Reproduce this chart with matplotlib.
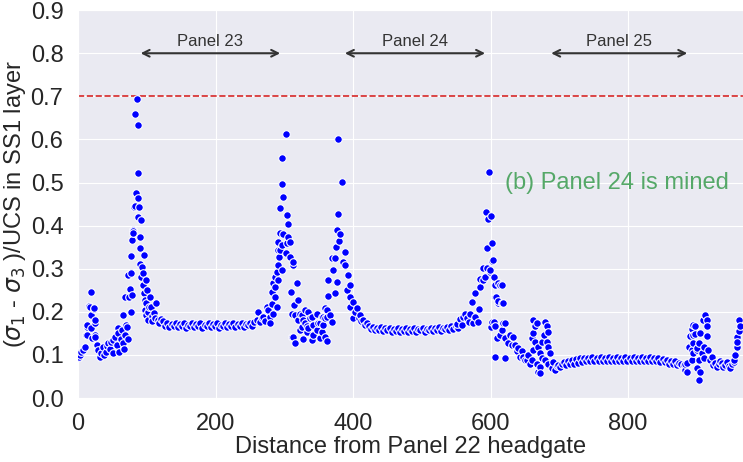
import numpy as np
import matplotlib
matplotlib.use("Agg")
import matplotlib.pyplot as plt
import seaborn as sns

# (distance, normalised stress), one list per stretch of the profile
left_pts = [
    (1, 0.095), (3, 0.100), (5, 0.107), (7, 0.112), (10, 0.119), (11, 0.146), (13.6, 0.146),
    (13.6, 0.165), (13.6, 0.169), (16.5, 0.213), (17, 0.212), (18.4, 0.247), (18.4, 0.193),
    (19.4, 0.162), (21, 0.140), (23, 0.206), (23, 0.208), (24, 0.175), (24.7, 0.181), (24, 0.146),
    (25, 0.142), (27, 0.123), (29.6, 0.111), (32, 0.096), (34, 0.104), (36.8, 0.119), (38, 0.100),
    (40.7, 0.107), (42, 0.121), (44.1, 0.127), (46.5, 0.113), (48, 0.131), (50.4, 0.135),
    (51.4, 0.104), (53.8, 0.142), (56.2, 0.123), (58.2, 0.162), (58.7, 0.150), (60.1, 0.107),
    (62.1, 0.138), (63.5, 0.158), (65.4, 0.193), (65.9, 0.127), (66.9, 0.113), (67.9, 0.235),
    (68.4, 0.146), (70.3, 0.169), (70.8, 0.165), (72.7, 0.285), (73.2, 0.138), (73.7, 0.234),
    (75.1, 0.254), (76.6, 0.330), (76.6, 0.200), (77.6, 0.289), (78, 0.239),
]
peak1_pts = [
    (79.0, 0.367), (79.5, 0.389), (80.0, 0.388), (80.5, 0.382), (81.5, 0.444), (82.9, 0.445),
    (82.9, 0.660), (83.9, 0.475), (85.3, 0.693), (87.3, 0.523), (87.3, 0.463), (87.3, 0.421),
    (87.7, 0.633), (88.7, 0.444), (89.7, 0.374), (89.7, 0.347), (89.7, 0.312), (91.1, 0.413),
    (91.1, 0.281), (93.1, 0.305), (94, 0.290), (95, 0.262), (96.0, 0.332), (96.0, 0.243),
    (97.0, 0.204), (98, 0.228), (99.4, 0.274), (99.4, 0.220), (99.4, 0.193), (100.8, 0.251),
    (101.8, 0.181), (102, 0.200), (103, 0.212), (104.2, 0.235), (105.7, 0.211), (107, 0.190),
    (108, 0.178), (110.5, 0.197), (111.5, 0.185), (113.9, 0.220), (116, 0.180), (118, 0.175),
    (121.2, 0.183),
]
flat23_pts = [
    (124, 0.178), (127, 0.168), (130, 0.174), (133, 0.165), (136, 0.172), (139, 0.167), (142, 0.175),
    (145, 0.164), (148, 0.171), (151, 0.168), (154, 0.174), (157, 0.163), (160, 0.170), (163, 0.167),
    (166, 0.173), (169, 0.164), (172, 0.171), (175, 0.168), (178, 0.174), (181, 0.163), (184, 0.170),
    (187, 0.166), (190, 0.173), (193, 0.164), (196, 0.171), (199, 0.167), (202, 0.174), (205, 0.163),
    (208, 0.170), (211, 0.167), (214, 0.173), (217, 0.164), (220, 0.171), (223, 0.167), (226, 0.174),
    (229, 0.164), (232, 0.171), (235, 0.168), (238, 0.174), (241, 0.165), (244, 0.172), (247, 0.169),
    (250, 0.175), (253, 0.168), (256, 0.177),
]
peak2_pts = [
    (259.9, 0.181), (262.3, 0.200), (265, 0.176), (268, 0.185), (269.6, 0.189), (272, 0.178),
    (274.4, 0.212), (276.8, 0.204), (279.3, 0.189), (279.3, 0.173), (281.7, 0.247), (281.7, 0.219),
    (284.2, 0.266), (284.2, 0.196), (286.6, 0.281), (286.6, 0.235), (286.6, 0.258), (289.0, 0.293),
    (289.0, 0.212), (291.4, 0.309), (291.4, 0.273), (291.4, 0.363), (291.4, 0.343), (292.9, 0.328),
    (293.8, 0.343), (293.8, 0.382), (293.8, 0.440), (296.3, 0.496), (296.3, 0.297), (296.3, 0.356),
    (297.2, 0.558), (298.7, 0.380), (298.7, 0.467), (302.0, 0.612), (302.5, 0.336), (303.5, 0.425),
    (303.5, 0.359), (304.9, 0.403), (306.0, 0.374), (308.4, 0.363), (308.4, 0.328), (309.3, 0.247),
    (310.8, 0.196), (311.7, 0.142), (312.2, 0.309), (313.2, 0.316), (313.2, 0.142), (314.1, 0.216),
    (315.6, 0.193), (315.6, 0.127), (318.0, 0.266), (320.4, 0.227), (320.4, 0.181),
]
gap_pts = [
    (322.9, 0.196), (322.9, 0.158), (325.3, 0.165), (325.3, 0.193), (327.7, 0.181), (327.7, 0.137),
    (330.2, 0.173), (330.2, 0.205), (332.6, 0.154), (332.6, 0.166), (335.0, 0.200), (335.0, 0.162),
    (337.4, 0.185), (339.8, 0.189), (339.8, 0.135), (342.3, 0.170), (342.3, 0.147), (347.1, 0.196),
    (347.1, 0.158), (349.5, 0.173), (351.9, 0.139), (351.9, 0.174), (354.4, 0.189), (354.4, 0.154),
    (356.8, 0.170), (356.8, 0.189), (359.2, 0.185), (359.2, 0.142), (359.2, 0.208), (361.6, 0.204),
    (361.6, 0.132), (362.6, 0.189), (366.5, 0.193), (368.9, 0.177),
]
peak3_pts = [
    (364.1, 0.274), (364.1, 0.237), (368.9, 0.326), (371.4, 0.297), (373.8, 0.326), (373.8, 0.243),
    (375.3, 0.351), (377.2, 0.390), (377.2, 0.270), (378.7, 0.602), (378.7, 0.427), (380.1, 0.365),
    (381.1, 0.380), (383.5, 0.502), (385.9, 0.316), (387.6, 0.339), (388.3, 0.309), (391.0, 0.251),
    (393.2, 0.285), (395.6, 0.262), (395.6, 0.235), (395.6, 0.212), (400.4, 0.223), (400.4, 0.186),
    (403, 0.200), (405.3, 0.209), (408, 0.185), (410.1, 0.193), (412, 0.178), (414.9, 0.181),
    (417, 0.170), (419.8, 0.173),
]
flat24_pts = [
    (423, 0.168), (426, 0.160), (429, 0.165), (432, 0.157), (435, 0.163), (438, 0.158), (441, 0.164),
    (444, 0.155), (447, 0.162), (450, 0.157), (453, 0.163), (456, 0.154), (459, 0.161), (462, 0.156),
    (465, 0.162), (468, 0.153), (471, 0.160), (474, 0.156), (477, 0.162), (480, 0.153), (483, 0.160),
    (486, 0.156), (489, 0.162), (492, 0.154), (495, 0.161), (498, 0.157), (501, 0.163), (504, 0.154),
    (507, 0.161), (510, 0.157), (513, 0.163), (516, 0.155), (519, 0.162), (522, 0.158), (525, 0.164),
    (528, 0.156), (531, 0.163), (534, 0.159), (537, 0.165), (540, 0.158), (543, 0.166), (546, 0.161),
    (549, 0.168), (552, 0.163), (555, 0.176),
]
peak4_pts = [
    (550.8, 0.171), (555.6, 0.184), (558, 0.170), (560.5, 0.189), (562.9, 0.196), (565.3, 0.185),
    (568, 0.176), (570.2, 0.196), (572.6, 0.223), (575.0, 0.174), (577.4, 0.189), (577.4, 0.243),
    (582.3, 0.177), (583.7, 0.206), (584.7, 0.258), (584.7, 0.276), (588.6, 0.301), (589.6, 0.274),
    (592.0, 0.281), (593.4, 0.432), (594.4, 0.301), (594.4, 0.347), (596.8, 0.415), (598.3, 0.525),
    (599.3, 0.292), (599.3, 0.297), (600.2, 0.423), (600.2, 0.164), (601.7, 0.319), (601.7, 0.359),
    (601.7, 0.177), (604.1, 0.320), (605.1, 0.281), (605.1, 0.177), (606.5, 0.262), (606.5, 0.235),
    (606.5, 0.166), (606.5, 0.096), (607.9, 0.234), (608.9, 0.139), (611.4, 0.220), (611.4, 0.266),
    (611.4, 0.224), (613.8, 0.262), (613.8, 0.146), (616.2, 0.262), (616.2, 0.220), (616.2, 0.158),
    (617.7, 0.220), (618.6, 0.174), (621.0, 0.174), (621.0, 0.139), (621.0, 0.092),
]
mixed_pts = [
    (625.9, 0.127), (628.3, 0.146), (630.7, 0.123), (633.2, 0.142), (635.6, 0.123), (638.0, 0.108),
    (640.4, 0.115), (642.9, 0.096), (645.3, 0.108), (647.7, 0.096), (650.2, 0.088), (652.6, 0.088),
    (655.0, 0.100), (657.4, 0.080), (659.9, 0.139), (659.9, 0.088), (662.3, 0.181), (662.3, 0.150),
    (662.3, 0.111), (664.7, 0.166), (664.7, 0.131), (667.1, 0.174), (667.1, 0.080), (669.6, 0.119),
    (669.6, 0.061), (672.0, 0.104), (672.0, 0.073), (672.0, 0.057), (674.4, 0.092), (674.4, 0.131),
    (676.9, 0.146), (679.3, 0.177), (679.3, 0.088), (681.7, 0.166), (681.7, 0.131), (684.1, 0.154),
    (684.1, 0.119), (684.1, 0.080), (686.5, 0.104), (689.0, 0.069), (691.4, 0.084), (693.8, 0.065),
    (696, 0.075), (698.7, 0.077), (701, 0.072), (703.5, 0.080),
]
flat25_pts = [
    (706, 0.083), (709, 0.076), (712, 0.086), (715, 0.078), (718, 0.088), (721, 0.080), (724, 0.090),
    (727, 0.082), (730, 0.092), (733, 0.084), (736, 0.094), (739, 0.085), (742, 0.093), (745, 0.086),
    (748, 0.095), (751, 0.085), (754, 0.094), (757, 0.086), (760, 0.095), (763, 0.085), (766, 0.094),
    (769, 0.086), (772, 0.095), (775, 0.085), (778, 0.094), (781, 0.086), (784, 0.095), (787, 0.085),
    (790, 0.094), (793, 0.086), (796, 0.095), (799, 0.085), (802, 0.094), (805, 0.086), (808, 0.095),
    (811, 0.085), (814, 0.094), (817, 0.086), (820, 0.095), (823, 0.085), (826, 0.094), (829, 0.086),
    (832, 0.095), (835, 0.085), (838, 0.093), (841, 0.085), (844, 0.092), (847, 0.084), (850, 0.091),
    (853, 0.083), (856, 0.089), (859, 0.080), (862, 0.087), (865, 0.078), (868, 0.085), (871, 0.076),
    (874, 0.082),
]
right_pts = [
    (877, 0.078), (880.5, 0.077), (882.9, 0.065), (882.9, 0.080), (885.3, 0.081), (885.3, 0.061),
    (887.8, 0.119), (890.2, 0.143), (892.6, 0.159), (892.6, 0.111), (892.6, 0.088), (895.0, 0.170),
    (895.0, 0.147), (895.0, 0.127), (895.0, 0.104), (897.4, 0.166), (897.5, 0.148), (899.9, 0.111),
    (899.9, 0.069), (899.9, 0.115), (902.3, 0.127), (902.3, 0.088), (902.3, 0.042), (904.7, 0.150),
    (904.7, 0.061), (907.2, 0.104), (909.5, 0.181), (909.6, 0.119), (909.6, 0.092), (911.9, 0.193),
    (914.4, 0.181), (914.4, 0.166), (914.4, 0.143), (916.8, 0.111), (919.3, 0.088), (921.7, 0.096),
    (924.1, 0.077), (926.5, 0.082), (929.0, 0.073), (931.5, 0.079), (933.8, 0.085), (936.2, 0.081),
    (938.6, 0.072), (941.1, 0.077), (943.5, 0.083), (946, 0.075), (948.4, 0.069), (950.8, 0.079),
    (953.2, 0.084), (953.2, 0.088), (955.7, 0.100), (958.1, 0.142), (958.1, 0.119), (958.1, 0.131),
    (960.5, 0.158), (960.5, 0.155), (961.9, 0.181), (962.9, 0.166),
]

panel_names = ["Panel 23", "Panel 24", "Panel 25"]
panel_starts = [87, 384, 684]
panel_ends = [298, 596, 890]
limit = 0.7

sns.set_style("darkgrid")
plt.rcParams["font.family"] = ["Liberation Sans", "DejaVu Sans"]

pts = (left_pts + peak1_pts + flat23_pts + peak2_pts + gap_pts + peak3_pts
       + flat24_pts + peak4_pts + mixed_pts + flat25_pts + right_pts)
x, y = np.array(pts).T

fig = plt.figure(figsize=(7.43, 4.62), dpi=100)
ax = fig.add_axes([0.105, 0.1385, 0.895, 0.8395])

ax.scatter(x, y, s=30, c="blue", edgecolors="white", linewidths=0.8, zorder=3)
ax.axhline(limit, color="#d62728", ls="--", lw=1.2, zorder=2)

for name, x0, x1 in zip(panel_names, panel_starts, panel_ends):
    ax.annotate("", xy=(x0, 0.8), xytext=(x1, 0.8),
                arrowprops=dict(arrowstyle="<->", color="#333333", lw=1.5, mutation_scale=12))
    ax.text((x0 + x1) / 2, 0.81, name, ha="center", va="bottom", fontsize=12, color="#333333")

ax.text(621, 0.50, "(b) Panel 24 is mined", color="#55a868", fontsize=17, va="center")

ax.set_xlim(0, 967)
ax.set_ylim(0, 0.9)
ax.set_xticks([0, 200, 400, 600, 800])
ax.set_yticks([0.0, 0.1, 0.2, 0.3, 0.4, 0.5, 0.6, 0.7, 0.8, 0.9])
ax.set_yticklabels(["0.0", "0.1", "0.2", "0.3", "0.4", "0.5", "0.6", "0.7", "0.8", "0.9"])
ax.tick_params(labelsize=17, pad=7)
ax.set_xlabel("Distance from Panel 22 headgate", fontsize=17, labelpad=1)
ax.set_ylabel(r"($\sigma_1$ - $\sigma_3$ )/UCS in SS1 layer", fontsize=17, labelpad=2)

fig.savefig("out.png", dpi=100)
